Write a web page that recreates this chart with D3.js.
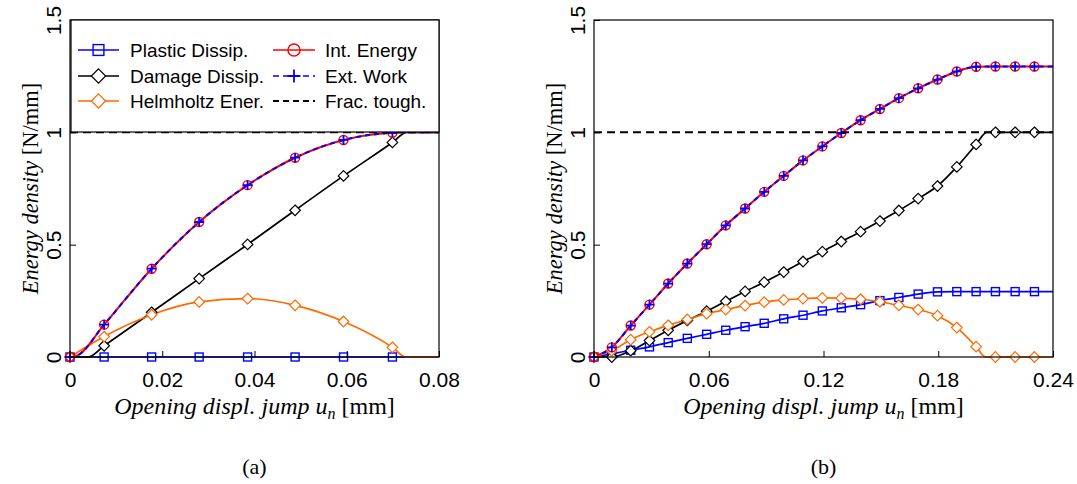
<!DOCTYPE html>
<html>
<head>
<meta charset="utf-8">
<script src="https://cdn.jsdelivr.net/npm/d3@7"></script>
<style>
  html, body { margin: 0; padding: 0; background: #fff; }
  svg { display: block; }
</style>
</head>
<body>
<svg id="chart" width="1077" height="484"></svg>
<script>
// ---------------- DATA ----------------
// Panel (a): marker abscissae [mm]
const xMarkA   = [0, 0.0074, 0.0177, 0.0280, 0.0385, 0.0488, 0.0593, 0.0699];
const plasticA = [0, 0, 0, 0, 0, 0, 0, 0];
const damageA  = [0, 0.050, 0.199, 0.349, 0.501, 0.653, 0.806, 0.955];
const helmA    = [0, 0.091, 0.188, 0.245, 0.260, 0.230, 0.158, 0.043];
const intA     = [0, 0.144, 0.393, 0.601, 0.765, 0.887, 0.966, 0.998];
const extA     = [0, 0.144, 0.393, 0.601, 0.765, 0.887, 0.966, 0.998];
// Panel (a): extra (unmarked) curve points
const plasticAExtra = [[0.08, 0]];
const damageAExtra  = [[0.0039, 0], [0.0730, 1.0], [0.08, 1.0]];
const helmAExtra    = [[0.0728, 0], [0.08, 0]];
const intAExtra     = [[0.0015, 0.006], [0.0728, 1.0], [0.08, 1.0]];
const extAExtra     = [[0.0015, 0.006], [0.0728, 1.0], [0.08, 1.0]];

// Panel (b): marker abscissae [mm]
const xMarkB   = [0, 0.0093, 0.0192, 0.0290, 0.0388, 0.0488, 0.0589, 0.0689, 0.0790, 0.0890,
                  0.0992, 0.1093, 0.1194, 0.1293, 0.1394, 0.1495, 0.1594, 0.1695, 0.1796, 0.1897,
                  0.1998, 0.2099, 0.2202, 0.2303];
const plasticB = [0, 0.014, 0.030, 0.045, 0.064, 0.083, 0.101, 0.119, 0.135, 0.150,
                  0.170, 0.186, 0.205, 0.219, 0.233, 0.251, 0.265, 0.280, 0.290, 0.291,
                  0.291, 0.291, 0.291, 0.291];
const damageB  = [0, 0, 0.028, 0.073, 0.119, 0.163, 0.204, 0.248, 0.292, 0.333,
                  0.378, 0.425, 0.469, 0.514, 0.558, 0.605, 0.652, 0.705, 0.761, 0.846,
                  0.946, 1.0, 1.0, 1.0];
const helmB    = [0, 0.028, 0.077, 0.112, 0.141, 0.167, 0.193, 0.211, 0.229, 0.244,
                  0.254, 0.260, 0.263, 0.262, 0.257, 0.246, 0.230, 0.211, 0.184, 0.131,
                  0.046, 0, 0, 0];
const intB     = [0, 0.043, 0.140, 0.233, 0.327, 0.416, 0.502, 0.586, 0.661, 0.735,
                  0.806, 0.875, 0.9375, 0.997, 1.054, 1.104, 1.152, 1.196, 1.235, 1.271,
                  1.292, 1.293, 1.293, 1.293];
const extB     = [0, 0.043, 0.140, 0.233, 0.327, 0.416, 0.502, 0.586, 0.661, 0.735,
                  0.806, 0.875, 0.9375, 0.997, 1.054, 1.104, 1.152, 1.196, 1.235, 1.271,
                  1.292, 1.293, 1.293, 1.293];
const plasticBExtra = [[0.24, 0.291]];
const damageBExtra  = [[0.2053, 1.0], [0.24, 1.0]];
const helmBExtra    = [[0.2048, 0], [0.24, 0]];
const intBExtra     = [[0.24, 1.293]];
const extBExtra     = [[0.24, 1.293]];

const fracTough = 1.0;

const xTicksA = [0, 0.02, 0.04, 0.06, 0.08];
const xTicksB = [0, 0.06, 0.12, 0.18, 0.24];
const yTicks  = [0, 0.5, 1, 1.5];
const xTickLabelsA = ["0", "0.02", "0.04", "0.06", "0.08"];
const xTickLabelsB = ["0", "0.06", "0.12", "0.18", "0.24"];
const yTickLabels  = ["0", "0.5", "1", "1.5"];

const legendNames = ["Plastic Dissip.", "Damage Dissip.", "Helmholtz Ener.",
                     "Int. Energy", "Ext. Work", "Frac. tough."];
const captions = ["(a)", "(b)"];

// ---------------- STYLE ----------------
const COL = { blue: "#0000ff", black: "#000000", orange: "#ff6a00", red: "#ff0000" };
const SANS = "'Liberation Sans', Arial, sans-serif";
const SERIF = "'Liberation Serif', 'Times New Roman', serif";

const svg = d3.select("#chart");

const panels = [
  { left: 70, right: 439, top: 20, bottom: 357, xmax: 0.08, xTicks: xTicksA, xLabels: xTickLabelsA,
    xm: xMarkA, series: [plasticA, damageA, helmA, intA, extA],
    extras: [plasticAExtra, damageAExtra, helmAExtra, intAExtra, extAExtra], legend: true, cap: captions[0] },
  { left: 594, right: 1053, top: 20, bottom: 357, xmax: 0.24, xTicks: xTicksB, xLabels: xTickLabelsB,
    xm: xMarkB, series: [plasticB, damageB, helmB, intB, extB],
    extras: [plasticBExtra, damageBExtra, helmBExtra, intBExtra, extBExtra], legend: false, cap: captions[1] }
];

const seriesStyle = [
  { color: COL.blue,   width: 1.7, dash: null,  marker: "square"  },
  { color: COL.black,  width: 1.7, dash: null,  marker: "diamond" },
  { color: COL.orange, width: 1.7, dash: null,  marker: "diamondO"},
  { color: COL.red,    width: 2.0, dash: null,  marker: "circle"  },
  { color: COL.blue,   width: 2.0, dash: "5,4", marker: "plus"    }
];

function drawMarker(g, type, cx, cy, s) {
  const k = s || 1;
  if (type === "square") {
    const h = 4.0 * k;
    g.append("rect").attr("x", cx - h).attr("y", cy - h).attr("width", 2 * h).attr("height", 2 * h)
      .attr("fill", "none").attr("stroke", COL.blue).attr("stroke-width", 1.4);
  } else if (type === "diamond" || type === "diamondO") {
    const h = 5.3 * k;
    const c = type === "diamond" ? COL.black : COL.orange;
    g.append("path").attr("d", `M${cx},${cy - h}L${cx + h},${cy}L${cx},${cy + h}L${cx - h},${cy}Z`)
      .attr("fill", "#fff").attr("stroke", c).attr("stroke-width", 1.2);
  } else if (type === "circle") {
    g.append("circle").attr("cx", cx).attr("cy", cy).attr("r", 4.5 * k)
      .attr("fill", "none").attr("stroke", COL.red).attr("stroke-width", 1.4);
  } else if (type === "plus") {
    const h = 4.8 * k;
    g.append("path").attr("d", `M${cx - h},${cy}H${cx + h}M${cx},${cy - h}V${cy + h}`)
      .attr("stroke", COL.blue).attr("stroke-width", 1.8).attr("fill", "none");
  }
}

panels.forEach((p) => {
  const x = d3.scaleLinear().domain([0, p.xmax]).range([p.left, p.right]);
  const y = d3.scaleLinear().domain([0, 1.5]).range([p.bottom, p.top]);
  const g = svg.append("g");

  const clipId = "clip" + p.left;
  svg.append("clipPath").attr("id", clipId).append("rect")
    .attr("x", p.left).attr("y", p.top - 5).attr("width", p.right - p.left).attr("height", p.bottom - p.top + 10);

  const plot = g.append("g").attr("clip-path", `url(#${clipId})`);
  const line = d3.line().x(d => x(d[0])).y(d => y(d[1])).curve(d3.curveMonotoneX);

  p.series.forEach((vals, i) => {
    const st = seriesStyle[i];
    const pts = vals.map((v, j) => [p.xm[j], v]).concat(p.extras[i]).sort((a, b) => a[0] - b[0]);
    const path = plot.append("path").attr("d", line(pts)).attr("fill", "none")
      .attr("stroke", st.color).attr("stroke-width", st.width).attr("stroke-linejoin", "round");
    if (st.dash) path.attr("stroke-dasharray", st.dash);
    const mg = g.append("g");
    vals.forEach((v, j) => drawMarker(mg, st.marker, x(p.xm[j]), y(v)));
  });

  // fracture toughness
  g.append("line").attr("x1", x(0)).attr("x2", x(p.xmax)).attr("y1", y(fracTough)).attr("y2", y(fracTough))
    .attr("stroke", "#000").attr("stroke-width", 2).attr("stroke-dasharray", "8,5");

  // axes
  const xAxis = d3.axisBottom(x).tickValues(p.xTicks).tickSizeInner(-6).tickSizeOuter(0)
    .tickFormat((d, i) => p.xLabels[i]);
  const gx = g.append("g").attr("transform", `translate(0,${p.bottom})`).call(xAxis);
  gx.select(".domain").remove();
  gx.selectAll("line").attr("stroke", "#000");
  gx.selectAll("text").attr("y", 30).attr("dy", 0).attr("font-family", SANS).attr("font-size", 21).attr("fill", "#000");

  const yAxis = d3.axisLeft(y).tickValues(yTicks).tickSizeInner(-6).tickSizeOuter(0)
    .tickFormat((d, i) => yTickLabels[i]);
  const gy = g.append("g").attr("transform", `translate(${p.left},0)`).call(yAxis);
  gy.select(".domain").remove();
  gy.selectAll("line").attr("stroke", "#000");
  gy.selectAll("text").attr("x", 0).attr("dy", 0).attr("text-anchor", "middle")
    .attr("transform", "translate(-9,0) rotate(-90)")
    .attr("font-family", SANS).attr("font-size", 21).attr("fill", "#000");

  // frame
  g.append("rect").attr("x", p.left).attr("y", p.top).attr("width", p.right - p.left).attr("height", p.bottom - p.top)
    .attr("fill", "none").attr("stroke", "#000").attr("stroke-width", 1.2);

  // axis labels
  const cx = (p.left + p.right) / 2;
  const xl = g.append("text").attr("x", cx).attr("y", 414).attr("text-anchor", "middle")
    .attr("font-family", SERIF).attr("font-size", 24).attr("fill", "#000");
  xl.append("tspan").attr("font-style", "italic").text("Opening displ. jump u");
  xl.append("tspan").attr("font-style", "italic").attr("font-size", 16).attr("dy", 5).text("n");
  xl.append("tspan").attr("dy", -5).text(" [mm]");

  const cy = (p.top + p.bottom) / 2;
  const yl = g.append("text").attr("transform", `translate(${p.left - 32},${cy}) rotate(-90)`)
    .attr("text-anchor", "middle").attr("font-family", SERIF).attr("font-size", 22.5).attr("fill", "#000");
  yl.append("tspan").attr("font-style", "italic").text("Energy density");
  yl.append("tspan").text(" [N/mm]");

  // caption
  g.append("text").attr("x", cx).attr("y", 474).attr("text-anchor", "middle")
    .attr("font-family", SERIF).attr("font-size", 22).attr("fill", "#000").text(p.cap);

  // legend
  if (p.legend) {
    const lg = g.append("g");
    lg.append("rect").attr("x", 71).attr("y", 20).attr("width", 368).attr("height", 112)
      .attr("fill", "#fff").attr("stroke", "#000").attr("stroke-width", 1.2);
    const rows = [50, 76, 101];
    const cols = [{ x1: 78, x2: 119, tx: 130 }, { x1: 273, x2: 315, tx: 325 }];
    const legStyles = [
      { color: COL.blue, dash: null, w: 1.7, m: "square" },
      { color: COL.black, dash: null, w: 1.7, m: "diamond" },
      { color: COL.orange, dash: null, w: 1.7, m: "diamondO" },
      { color: COL.red, dash: null, w: 1.7, m: "circle" },
      { color: COL.blue, dash: "6,4", w: 1.7, m: "plus" },
      { color: "#000", dash: "6,4", w: 2, m: null }
    ];
    legendNames.forEach((name, i) => {
      const c = cols[Math.floor(i / 3)], ry = rows[i % 3], st = legStyles[i];
      const ln = lg.append("line").attr("x1", c.x1).attr("x2", c.x2).attr("y1", ry).attr("y2", ry)
        .attr("stroke", st.color).attr("stroke-width", st.w);
      if (st.dash) ln.attr("stroke-dasharray", st.dash);
      if (st.m) drawMarker(lg, st.m, (c.x1 + c.x2) / 2, ry, 1.35);
      lg.append("text").attr("x", c.tx).attr("y", ry + 7).attr("font-family", SANS).attr("font-size", 19)
        .attr("fill", "#000").text(name);
    });
  }
});
</script>
</body>
</html>
